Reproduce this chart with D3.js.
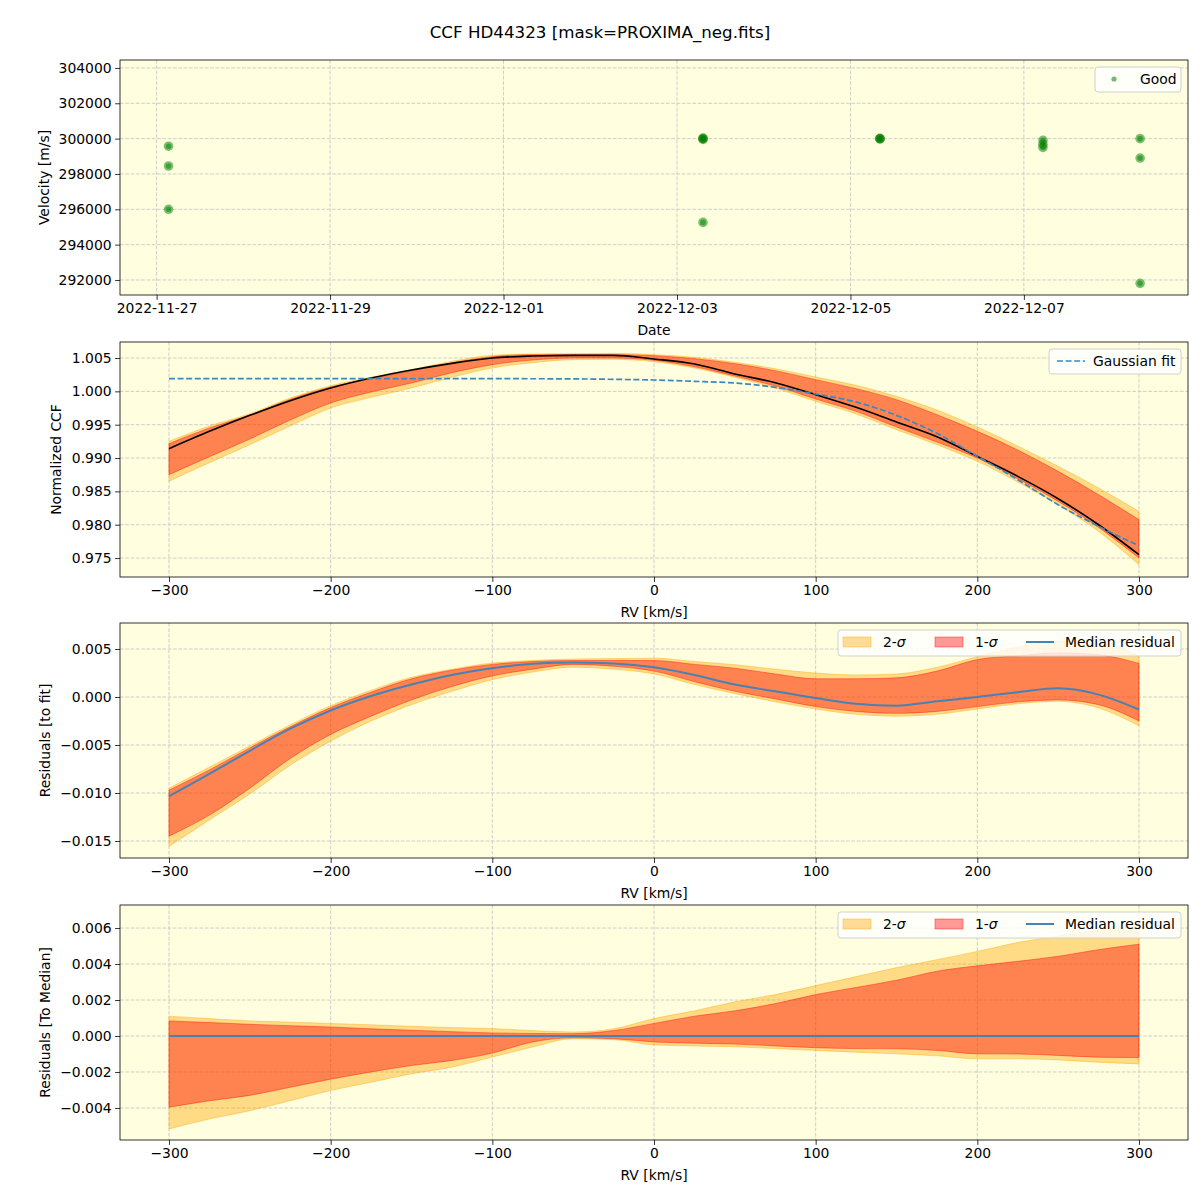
<!DOCTYPE html>
<html><head><meta charset="utf-8">
<script src="https://cdn.jsdelivr.net/npm/d3@7"></script>
<style>body{margin:0;background:#fff} svg{font-family:"DejaVu Sans",sans-serif}</style>
</head><body>
<svg id="c" width="1200" height="1200"></svg>
<script>
// ---------- data ----------
const obsTimes = ["2022-11-27T03:18Z","2022-11-27T03:18Z","2022-11-27T03:18Z",
  "2022-12-03T07:12Z","2022-12-03T07:12Z","2022-12-03T07:12Z","2022-12-03T07:12Z",
  "2022-12-05T08:10Z","2022-12-05T08:10Z","2022-12-05T08:10Z",
  "2022-12-07T05:17Z","2022-12-07T05:17Z","2022-12-07T05:17Z",
  "2022-12-08T08:10Z","2022-12-08T08:10Z","2022-12-08T08:10Z"];
const obsVelocity = [299570,298450,296000,
  300000,299960,300030,295260,
  300000,300020,299980,
  299900,299680,299500,
  300000,298900,291810];
const dateTicks = ["2022-11-27","2022-11-29","2022-12-01","2022-12-03","2022-12-05","2022-12-07"];
const velTicks = [292000,294000,296000,298000,300000,302000,304000];

const rv = [-300,-275,-250,-225,-200,-175,-150,-125,-100,-75,-50,-25,0,25,50,75,100,125,150,175,200,225,250,275,300];
const rvTicks = [-300,-200,-100,0,100,200,300];

const ccfMedian = [0.9914,0.9940,0.9964,0.9986,1.0005,1.0020,1.0032,1.0042,1.0050,1.0053,1.0054,1.0054,1.00485,1.0041,1.0026,1.0013,0.9995,0.9976,0.9954,0.9932,0.99025,0.98725,0.9839,0.9800,0.9755];
const ccfGauss  = [1.0019,1.0019,1.0019,1.0019,1.0019,1.0019,1.0019,1.0019,1.0019,1.00189,1.00187,1.0018,1.0017,1.0015,1.00125,1.0006,0.9996,0.9984,0.9964,0.9937,0.99025,0.98675,0.9830,0.97975,0.97685];
const ccfHi2 = [0.9925,0.9948,0.99665,0.9990,1.00085,1.0021,1.00325,1.0045,1.0054,1.0056,1.00565,1.0057,1.0055,1.0051,1.00435,1.0034,1.00215,1.0009,0.99925,0.9972,0.99465,0.9918,0.98875,0.9855,0.9820];
const ccfHi1 = [0.99215,0.9945,0.99645,0.9988,1.00065,1.0019,1.00305,1.0043,1.0052,1.0055,1.0055,1.0055,1.00535,1.0049,1.00415,1.0031,1.00175,1.0004,0.99875,0.9965,0.9940,0.9912,0.9880,0.9845,0.98075];
const ccfLo1 = [0.9875,0.9902,0.99285,0.9957,0.99825,0.9999,1.00125,1.0028,1.0040,1.0047,1.0050,1.0050,1.00465,1.0037,1.0023,1.0008,0.99885,0.9970,0.99465,0.9924,0.9900,0.9869,0.9835,0.9796,0.9750];
const ccfLo2 = [0.9865,0.9893,0.9920,0.9948,0.9975,0.9991,1.0005,1.0021,1.0035,1.0043,1.00475,1.0048,1.00445,1.0035,1.0021,1.0005,0.9985,0.9966,0.99425,0.9920,0.9895,0.9864,0.9830,0.9790,0.9740];
const ccfTicks = [0.975,0.980,0.985,0.990,0.995,1.000,1.005];

const resMedian = [-0.01035,-0.0080,-0.0056,-0.0033,-0.0014,0.0001,0.0013,0.0023,0.0030,0.00347,0.0036,0.0035,0.0031,0.0023,0.0013,0.0006,-0.0001,-0.0007,-0.0009,-0.00045,0.0000,0.0005,0.0009,0.00025,-0.0013];
const resHi2 = [-0.0095,-0.0073,-0.0051,-0.0029,-0.0009,0.0007,0.00205,0.0029,0.00354,0.0038,0.00396,0.0040,0.00405,0.0037,0.00337,0.0029,0.0025,0.0023,0.0024,0.0031,0.0042,0.0052,0.0058,0.0058,0.0042];
const resHi1 = [-0.0097,-0.0076,-0.0053,-0.0031,-0.0011,0.0005,0.0019,0.0028,0.0034,0.0037,0.0038,0.0038,0.0038,0.0034,0.0030,0.0024,0.0019,0.0019,0.0020,0.0027,0.0039,0.0043,0.0046,0.0044,0.0035];
const resLo1 = [-0.0145,-0.0123,-0.0095,-0.0064,-0.0039,-0.0020,-0.0003,0.0011,0.0022,0.0029,0.0034,0.0032,0.0027,0.0016,0.0006,-0.0002,-0.0010,-0.0015,-0.0017,-0.0015,-0.0010,-0.0005,-0.0003,-0.0008,-0.0025];
const resLo2 = [-0.01556,-0.0128,-0.0101,-0.0071,-0.0046,-0.0025,-0.0008,0.0006,0.0018,0.0026,0.0031,0.0029,0.0024,0.0013,0.00035,-0.0005,-0.00125,-0.0018,-0.0020,-0.0018,-0.00125,-0.0007,-0.00045,-0.00115,-0.0030];
const resTicks = [-0.015,-0.010,-0.005,0.000,0.005];

const medMedian = [0,0,0,0,0,0,0,0,0,0,0,0,0,0,0,0,0,0,0,0,0,0,0,0,0];
const medHi2 = [0.0011,0.00097,0.00084,0.00077,0.0007,0.00062,0.00054,0.00047,0.00041,0.0003,0.00022,0.0004,0.00097,0.0014,0.0019,0.0023,0.0028,0.0033,0.0038,0.00424,0.0047,0.0052,0.00555,0.0059,0.0063];
const medHi1 = [0.00084,0.00075,0.00065,0.00057,0.0005,0.0004,0.00032,0.00024,0.00017,0.00014,0.00013,0.0003,0.0007,0.0011,0.0014,0.0018,0.0023,0.0027,0.0031,0.0036,0.0039,0.00415,0.00443,0.0048,0.0051];
const medLo1 = [-0.00396,-0.0036,-0.0033,-0.00285,-0.0024,-0.0020,-0.00164,-0.00136,-0.00095,-0.00033,-0.0001,-0.00015,-0.00033,-0.0004,-0.00045,-0.00055,-0.00065,-0.0007,-0.00071,-0.0008,-0.00099,-0.0010,-0.00108,-0.00118,-0.0012];
const medLo2 = [-0.00517,-0.00461,-0.00415,-0.0036,-0.00303,-0.00257,-0.0021,-0.00173,-0.00117,-0.00061,-0.00015,-0.0002,-0.0005,-0.00055,-0.0006,-0.0007,-0.0008,-0.0009,-0.00099,-0.0011,-0.00127,-0.00127,-0.00133,-0.00146,-0.00155];
const medTicks = [-0.004,-0.002,0.000,0.002,0.004,0.006];

// ---------- layout ----------
const svg = d3.select("#c");
const L = 120, R = 1188, H = 235;
const tops = [60, 342, 623, 905];
const BG = "#ffffe0";
const FS = 13.9;
const CURVE = d3.curveMonotoneX;

svg.append("text").attr("x",600).attr("y",38).attr("text-anchor","middle")
  .attr("font-size",16.7).text("CCF HD44323 [mask=PROXIMA_neg.fits]");

function frame(top, x, y, xtickVals, xfmt, ytickVals, yfmt, xlabel, ylabel, ylabX) {
  const g = svg.append("g");
  g.append("rect").attr("x",L).attr("y",top).attr("width",R-L).attr("height",H).attr("fill",BG);
  g.selectAll(".gx").data(xtickVals).join("line")
    .attr("x1",d=>x(d)).attr("x2",d=>x(d)).attr("y1",top).attr("y2",top+H)
    .attr("stroke","#c8c8c8").attr("stroke-width",0.9).attr("stroke-dasharray","3.7,1.6");
  g.selectAll(".gy").data(ytickVals).join("line")
    .attr("x1",L).attr("x2",R).attr("y1",d=>y(d)).attr("y2",d=>y(d))
    .attr("stroke","#c8c8c8").attr("stroke-width",0.9).attr("stroke-dasharray","3.7,1.6");
  const content = svg.append("g");
  const over = svg.append("g");
  const xa = over.append("g").attr("transform",`translate(0,${top+H})`)
    .call(d3.axisBottom(x).tickValues(xtickVals).tickFormat(xfmt).tickSize(4.9).tickPadding(3.5));
  const ya = over.append("g").attr("transform",`translate(${L},0)`)
    .call(d3.axisLeft(y).tickValues(ytickVals).tickFormat(yfmt).tickSize(4.9).tickPadding(3.5));
  [xa,ya].forEach(a=>{ a.select(".domain").remove();
    a.selectAll("text").attr("font-size",FS).attr("fill","#000").attr("font-family","DejaVu Sans");
    a.selectAll("line").attr("stroke","#000").attr("stroke-width",0.8); });
  over.append("rect").attr("x",L).attr("y",top).attr("width",R-L).attr("height",H)
    .attr("fill","none").attr("stroke","#000").attr("stroke-width",0.8);
  over.append("text").attr("x",(L+R)/2).attr("y",top+H+40).attr("text-anchor","middle")
    .attr("font-size",FS).text(xlabel);
  over.append("text").attr("transform",`translate(${ylabX},${top+H/2}) rotate(-90)`)
    .attr("text-anchor","middle").attr("font-size",FS).text(ylabel);
  return {content, over};
}

// ---------- panel 1 ----------
{
  const top = tops[0];
  const x = d3.scaleUtc().domain([new Date("2022-11-26T13:52Z"), new Date("2022-12-08T21:25Z")]).range([L,R]);
  const y = d3.scaleLinear().domain([291150, 304450]).range([top+H, top]);
  const dt = dateTicks.map(s=>new Date(s+"T00:00Z"));
  const {content, over} = frame(top, x, y, dt, d3.utcFormat("%Y-%m-%d"), velTicks, d3.format("d"), "Date", "Velocity [m/s]", 49);
  const pts = obsTimes.map((t,i)=>({t:new Date(t), v:obsVelocity[i]}));
  content.selectAll(".p1").data(pts).join("circle").attr("cx",d=>x(d.t)).attr("cy",d=>y(d.v))
    .attr("r",4.8).attr("fill","green").attr("fill-opacity",0.5);
  content.selectAll(".p2").data(pts).join("circle").attr("cx",d=>x(d.t)).attr("cy",d=>y(d.v))
    .attr("r",2.8).attr("fill","green").attr("fill-opacity",0.5);
  const lg = over.append("g");
  lg.append("rect").attr("x",1095).attr("y",67).attr("width",86).attr("height",25).attr("rx",3)
    .attr("fill","#fff").attr("fill-opacity",0.8).attr("stroke","#d0d0d0");
  lg.append("circle").attr("cx",1114).attr("cy",79).attr("r",2.6).attr("fill","green").attr("fill-opacity",0.55);
  lg.append("text").attr("x",1140).attr("y",84).attr("font-size",FS).text("Good");
}

const xr = d3.scaleLinear().domain([-330.3, 330.3]).range([L,R]);
const f3 = d3.format(".3f");

function bands(content, y, lo2, hi2, lo1, hi1) {
  const a2 = d3.area().curve(CURVE).x((d,i)=>xr(rv[i])).y0((d,i)=>y(lo2[i])).y1((d,i)=>y(hi2[i]));
  const a1 = d3.area().curve(CURVE).x((d,i)=>xr(rv[i])).y0((d,i)=>y(lo1[i])).y1((d,i)=>y(hi1[i]));
  content.append("path").attr("d",a2(rv)).attr("fill","orange").attr("fill-opacity",0.4)
    .attr("stroke","orange").attr("stroke-opacity",0.4).attr("stroke-width",1);
  content.append("path").attr("d",a1(rv)).attr("fill","red").attr("fill-opacity",0.4)
    .attr("stroke","red").attr("stroke-opacity",0.4).attr("stroke-width",1);
}
function sigmaLegend(over, ly) {
  const lg = over.append("g");
  lg.append("rect").attr("x",838).attr("y",ly).attr("width",343).attr("height",26).attr("rx",3)
    .attr("fill","#fff").attr("fill-opacity",0.8).attr("stroke","#d0d0d0");
  lg.append("rect").attr("x",843).attr("y",ly+7).attr("width",28).attr("height",10)
    .attr("fill","orange").attr("fill-opacity",0.4).attr("stroke","orange").attr("stroke-opacity",0.4);
  let t = lg.append("text").attr("x",883).attr("y",ly+17).attr("font-size",FS);
  t.append("tspan").text("2-"); t.append("tspan").attr("font-style","italic").text("σ");
  lg.append("rect").attr("x",935).attr("y",ly+7).attr("width",28).attr("height",10)
    .attr("fill","red").attr("fill-opacity",0.4).attr("stroke","red").attr("stroke-opacity",0.4);
  t = lg.append("text").attr("x",975).attr("y",ly+17).attr("font-size",FS);
  t.append("tspan").text("1-"); t.append("tspan").attr("font-style","italic").text("σ");
  lg.append("line").attr("x1",1026).attr("x2",1054).attr("y1",ly+12).attr("y2",ly+12)
    .attr("stroke","#4682b4").attr("stroke-width",2);
  lg.append("text").attr("x",1065).attr("y",ly+17).attr("font-size",FS).text("Median residual");
}

// ---------- panel 2 ----------
{
  const top = tops[1];
  const y = d3.scaleLinear().domain([0.97216, 1.0074]).range([top+H, top]);
  const {content, over} = frame(top, xr, y, rvTicks, d3.format("d"), ccfTicks, f3, "RV [km/s]", "Normalized CCF", 61);
  bands(content, y, ccfLo2, ccfHi2, ccfLo1, ccfHi1);
  const ln = d3.line().curve(CURVE).x((d,i)=>xr(rv[i])).y(d=>y(d));
  content.append("path").attr("d",ln(ccfMedian)).attr("fill","none").attr("stroke","#000").attr("stroke-width",1.6);
  content.append("path").attr("d",ln(ccfGauss)).attr("fill","none").attr("stroke","#3a88c2")
    .attr("stroke-width",1.7).attr("stroke-dasharray","6,2.6");
  const lg = over.append("g");
  lg.append("rect").attr("x",1049).attr("y",349).attr("width",132).attr("height",25).attr("rx",3)
    .attr("fill","#fff").attr("fill-opacity",0.8).attr("stroke","#d0d0d0");
  lg.append("line").attr("x1",1057).attr("x2",1085).attr("y1",361).attr("y2",361)
    .attr("stroke","#3a88c2").attr("stroke-width",1.7).attr("stroke-dasharray","6,2.6");
  lg.append("text").attr("x",1093).attr("y",366).attr("font-size",FS).text("Gaussian fit");
}

// ---------- panel 3 ----------
{
  const top = tops[2];
  const y = d3.scaleLinear().domain([-0.01677, 0.00771]).range([top+H, top]);
  const {content, over} = frame(top, xr, y, rvTicks, d3.format("d"), resTicks, f3, "RV [km/s]", "Residuals [to fit]", 50);
  bands(content, y, resLo2, resHi2, resLo1, resHi1);
  const ln = d3.line().curve(CURVE).x((d,i)=>xr(rv[i])).y(d=>y(d));
  content.append("path").attr("d",ln(resMedian)).attr("fill","none").attr("stroke","#4682b4").attr("stroke-width",2);
  sigmaLegend(over, 630);
}

// ---------- panel 4 ----------
{
  const top = tops[3];
  const y = d3.scaleLinear().domain([-0.00578, 0.00728]).range([top+H, top]);
  const {content, over} = frame(top, xr, y, rvTicks, d3.format("d"), medTicks, f3, "RV [km/s]", "Residuals [To Median]", 50);
  bands(content, y, medLo2, medHi2, medLo1, medHi1);
  const ln = d3.line().curve(CURVE).x((d,i)=>xr(rv[i])).y(d=>y(d));
  content.append("path").attr("d",ln(medMedian)).attr("fill","none").attr("stroke","#4682b4").attr("stroke-width",2);
  sigmaLegend(over, 912);
}
</script>
</body></html>
